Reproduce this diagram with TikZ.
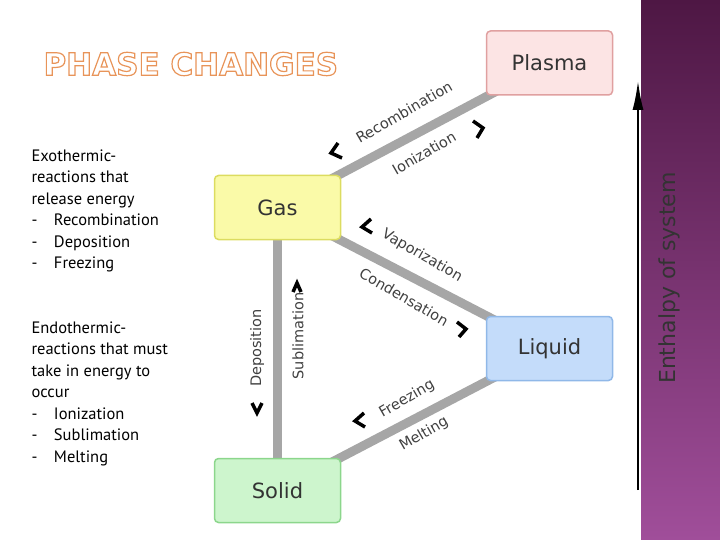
\documentclass[tikz,border=0pt]{standalone}
\usepackage{fontspec}
\setmainfont{DejaVu Sans}
\newfontfamily\sidefont{PT Sans}
\usetikzlibrary{positioning,arrows.meta}
\definecolor{plasmafill}{HTML}{FCE4E4}
\definecolor{plasmaline}{HTML}{E0A0A0}
\definecolor{gasfill}{HTML}{FAFAA8}
\definecolor{gasline}{HTML}{DCDC60}
\definecolor{liquidfill}{HTML}{C4DCFA}
\definecolor{liquidline}{HTML}{90B8E8}
\definecolor{solidfill}{HTML}{CDF5CD}
\definecolor{solidline}{HTML}{8CD68C}
\definecolor{titleorange}{HTML}{E8945A}
\definecolor{bartop}{HTML}{4E1744}
\definecolor{barbot}{HTML}{A04E9A}
\tikzset{
  phase/.style={draw=#1line, fill=#1fill, line width=1.5pt, rounded corners=4pt,
    minimum width=126pt, minimum height=64pt, font=\fontsize{21}{21}\selectfont, text=black!80},
  link/.style={line width=9pt, draw=black!35},
  change/.style={font=\fontsize{14.5}{14.5}\selectfont, text=black!75},
  chevron/.style={line width=3.5pt, line cap=butt},
  side/.style={align=left, anchor=north west, font=\sidefont\fontsize{16.5}{21.5}\selectfont}
}
\begin{document}
\begin{tikzpicture}[x=1pt,y=-1pt]
  \useasboundingbox (0,0) rectangle (720,540);
  \shade[top color=bartop, bottom color=barbot] (641,0) rectangle (720,540);
  % phase boxes
  \coordinate (plasmaC) at (549.5,63);
  \coordinate (gasC) at (277.5,207.5);
  \coordinate (liquidC) at (549.5,348.5);
  \coordinate (solidC) at (277.5,490.5);
  % links
  \draw[link] (gasC) -- (plasmaC);
  \draw[link] (gasC) -- (liquidC);
  \draw[link] (gasC) -- (solidC);
  \draw[link] (liquidC) -- (solidC);
  \node[phase=plasma] (plasma) at (plasmaC) {Plasma};
  \node[phase=gas] (gas) at (gasC) {Gas};
  \node[phase=liquid] (liquid) at (liquidC) {Liquid};
  \node[phase=solid] (solid) at (solidC) {Solid};
  % labels
  \node[change, rotate=30] (recomb) at (404,112) {Recombination};
  \node[change, rotate=30] (ioniz) at (424,153) {Ionization};
  \node[change, rotate=-30] (vapor) at (422,256) {Vaporization};
  \node[change, rotate=-30] (conden) at (404,297) {Condensation};
  \node[change, rotate=90] (depos) at (257,348) {Deposition};
  \node[change, rotate=90] (sublim) at (298,336) {Sublimation};
  \node[change, rotate=30] (freez) at (407,399) {Freezing};
  \node[change, rotate=30] (melt) at (424,434) {Melting};
  % chevrons
  \draw[chevron] (338,143) -- (331,153) -- (342,158);
  \draw[chevron] (473,121) -- (483,128) -- (477,138);
  \draw[chevron] (371,219) -- (362,227) -- (372,233);
  \draw[chevron] (457,322) -- (466,329) -- (459,337);
  \draw[chevron] (293,292) -- (297,283) -- (301,292);
  \draw[chevron] (252,403) -- (257,413) -- (262,403);
  \draw[chevron] (364,413) -- (355,421) -- (365,427);
  % side texts
  \node[side] (exo) at (28,146) {Exothermic-\\reactions that\\release energy\\-\quad Recombination\\-\quad Deposition\\-\quad Freezing};
  \node[side] (endo) at (28,318) {Endothermic-\\reactions that must\\take in energy to\\occur\\-\quad Ionization\\-\quad Sublimation\\-\quad Melting};
  \node[anchor=west, font=\bfseries\fontsize{31}{31}\selectfont, text=white] (title) at (40,64)
    {\special{pdf:literal 1 Tr 1.2 w 0.91 0.58 0.35 RG}PHASE CHANGES\special{pdf:literal 0 Tr}};
  % enthalpy axis
  \coordinate (axbot) at (638,490);
  \coordinate (axtop) at (638,80);
  \draw[line width=2.5pt, -{Latex[length=30pt,width=11pt]}] (axbot) -- (axtop);
  \node[rotate=90, font=\fontsize{22}{22}\selectfont, text=black!80] (enth) at (669,278) {Enthalpy of system};
\end{tikzpicture}
\end{document}
